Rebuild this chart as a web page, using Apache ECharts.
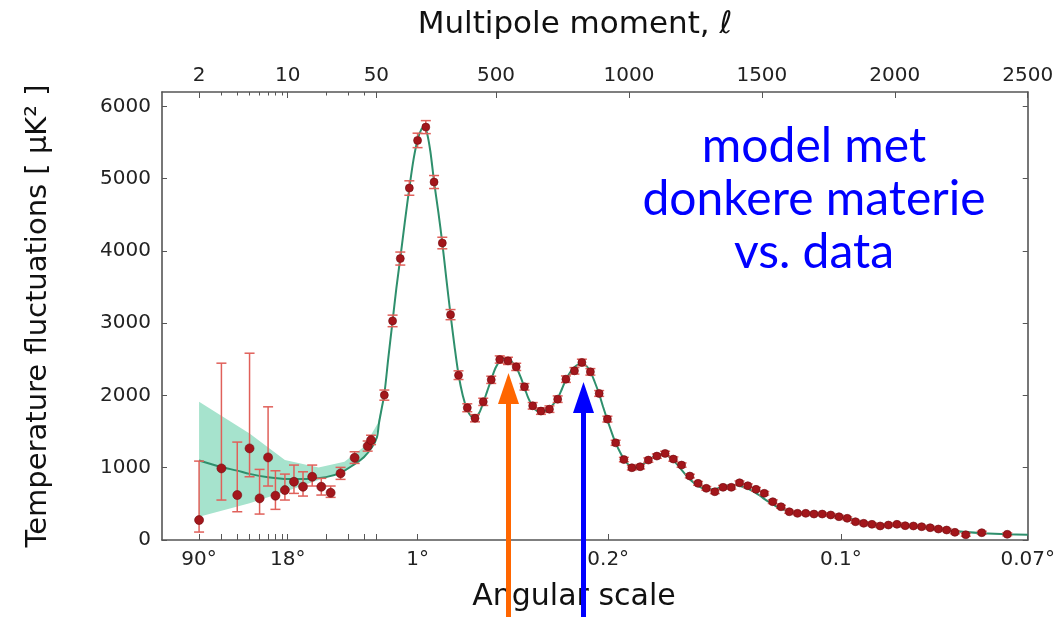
<html>
<head>
<meta charset="utf-8">
<title>Planck TT spectrum</title>
<script src="https://cdn.jsdelivr.net/npm/echarts@6/dist/echarts.min.js"></script>
<style>
html, body { margin: 0; padding: 0; background: #fff; }
#main { width: 1058px; height: 617px; }
</style>
</head>
<body>
<div id="main"></div>
<script>
// multipole axis: log below l=50, linear above (as in the Planck plot)
var LIN_START = 50;
var PER_DECADE = 477;   // l-units per decade in the log part
function toU(l) {
  return l >= LIN_START ? l : LIN_START - PER_DECADE * Math.log10(LIN_START / l);
}

// top axis ticks (multipole)
var topTickEll = [2, 10, 50, 500, 1000, 1500, 2000, 2500];
var topTickText = ['2', '10', '50', '500', '1000', '1500', '2000', '2500'];
var minorTickEll = [3, 4, 5, 6, 7, 8, 9, 20, 30, 40];
// bottom axis ticks (angular scale)
var angTickEll = [2, 10, 50, 205, 922, 1797, 2500];
var angTickText = ['90°', '18°', '', '1°', '0.2°', '0.1°', '0.07°'];
var yTicks = [0, 1000, 2000, 3000, 4000, 5000, 6000];

// low-l data with asymmetric errors
var lowEll = [2, 3, 4, 5, 6, 7, 8, 9.5, 11.2, 13.2, 15.6, 18.4, 21.8, 26.1, 33.7, 42.7, 45.4];
var lowDl = [276, 991, 622, 1268, 576, 1143, 613, 691, 806, 737, 875, 737, 654, 922, 1138, 1300, 1383];
var lowLo = [110, 553, 391, 875, 359, 747, 424, 553, 645, 608, 747, 622, 590, 839, 1060, 1230, 1320];
var lowHi = [1092, 2447, 1355, 2585, 977, 1843, 958, 912, 1037, 944, 1037, 853, 747, 1005, 1221, 1370, 1450];

// binned high-l data
var highEll = [80, 111, 140, 174, 205, 236, 267, 298, 329, 359, 392, 421, 452, 482, 514, 545, 576, 607, 638, 669,
  701, 732, 763, 795, 823, 855, 888, 919, 950, 981, 1011, 1042, 1073, 1105, 1136, 1167, 1198, 1229, 1260, 1291,
  1323, 1354, 1385, 1416, 1447, 1478, 1509, 1541, 1572, 1603, 1634, 1665, 1696, 1727, 1759, 1790, 1821, 1852, 1883, 1914,
  1945, 1976, 2008, 2039, 2070, 2101, 2133, 2164, 2195, 2226, 2267, 2327, 2423];
var highDl = [2005, 3032, 3895, 4871, 5530, 5714, 4954, 4110, 3119, 2281, 1830, 1685, 1912, 2217, 2498, 2479, 2396, 2120, 1857, 1784,
  1811, 1949, 2226, 2341, 2457, 2327, 2028, 1673, 1345, 1113, 1000, 1014, 1106, 1161, 1198, 1120, 1037, 885, 784, 715,
  668, 729, 729, 792, 751, 701, 646, 530, 460, 391, 369, 369, 359, 359, 346, 322, 300, 253, 231, 217,
  194, 207, 217, 198, 194, 184, 170, 152, 138, 106, 73, 101, 79];
var highErr = [70, 80, 90, 100, 100, 90, 90, 80, 70, 60, 55, 50, 50, 50, 50, 50, 50, 45, 45, 45,
  45, 45, 45, 45, 45, 45, 40, 40, 35, 30, 30, 30, 30, 30, 30, 30, 30, 25, 25, 25,
  25, 25, 25, 25, 25, 25, 25, 25, 20, 20, 20, 20, 20, 20, 20, 20, 20, 20, 20, 20,
  20, 20, 20, 20, 20, 20, 20, 20, 20, 20, 20, 20, 20];

// best-fit model curve
var modelEll = [2, 3, 4, 5, 7, 10, 14, 20, 26, 33, 40, 46, 52, 60, 70, 80, 95, 111, 125, 140,
  157, 174, 190, 205, 220, 230, 240, 253, 267, 283, 298, 313, 329, 344, 359, 375, 392, 407, 421, 437,
  452, 467, 482, 498, 514, 530, 545, 561, 576, 592, 607, 622, 638, 653, 669, 685, 701, 716, 732, 748,
  763, 779, 795, 810, 823, 840, 855, 871, 888, 903, 919, 935, 950, 966, 981, 996, 1011, 1027, 1042, 1058,
  1073, 1089, 1105, 1120, 1136, 1152, 1167, 1183, 1198, 1214, 1229, 1245, 1260, 1276, 1291, 1307, 1323, 1338, 1354, 1370,
  1385, 1401, 1416, 1432, 1447, 1463, 1478, 1494, 1509, 1525, 1541, 1556, 1572, 1588, 1603, 1619, 1634, 1665, 1696, 1727,
  1759, 1790, 1821, 1852, 1883, 1914, 1945, 1976, 2008, 2039, 2070, 2101, 2133, 2164, 2195, 2226, 2267, 2327, 2423, 2500];
var modelDl = [1100, 1010, 960, 915, 870, 845, 845, 870, 930, 1040, 1150, 1280, 1420, 1620, 1820, 2020, 2520, 3030, 3480, 3900,
  4400, 4870, 5270, 5540, 5690, 5710, 5640, 5380, 4960, 4540, 4110, 3620, 3120, 2680, 2290, 2000, 1800, 1710, 1690, 1760,
  1900, 2060, 2220, 2380, 2480, 2520, 2500, 2460, 2390, 2260, 2110, 1960, 1850, 1790, 1775, 1785, 1820, 1880, 1960, 2090,
  2220, 2320, 2390, 2430, 2440, 2410, 2330, 2190, 2020, 1840, 1660, 1490, 1340, 1220, 1120, 1050, 1010, 1000, 1015, 1060,
  1105, 1145, 1170, 1185, 1180, 1150, 1100, 1040, 970, 900, 840, 790, 750, 720, 705, 700, 705, 720, 740, 755,
  760, 760, 750, 730, 710, 680, 650, 610, 570, 530, 495, 460, 435, 410, 395, 380, 372, 365, 358, 352,
  340, 320, 298, 275, 250, 230, 215, 205, 200, 196, 192, 184, 170, 155, 140, 125, 110, 95, 80, 72];

// cosmic variance band at low l
var bandEll = [2, 5, 9.5, 17.5, 28, 40, 55, 70];
var bandTop = [1912, 1475, 1106, 1005, 1083, 1290, 1613, 1850];
var bandBot = [322, 507, 668, 830, 944, 1129, 1521, 1780];

var chart = echarts.init(document.getElementById('main'));

var axisFont = { fontFamily: 'DejaVu Sans', fontSize: 20, color: '#222' };
var lineCol = '#555';

function uList(arr) { return arr.map(toU); }
function labelFor(us, texts) {
  return function (v) {
    for (var i = 0; i < us.length; i++) if (Math.abs(us[i] - v) < 1e-6) return texts[i];
    return '';
  };
}

var topU = uList(topTickEll), minorU = uList(minorTickEll), angU = uList(angTickEll);

function xAx(pos, labels, texts, ticks, len, showLine) {
  return {
    type: 'value', position: pos, min: toU(1.02), max: 2500,
    axisLine: { show: showLine, onZero: false, lineStyle: { color: lineCol, width: 1.6 } },
    axisTick: { show: true, inside: true, length: len, customValues: ticks, lineStyle: { color: lineCol, width: 1 } },
    axisLabel: labels ? Object.assign({ show: true, customValues: labels, formatter: labelFor(labels, texts),
      margin: pos === 'top' ? 6 : 10 }, axisFont) : { show: false },
    splitLine: { show: false }
  };
}

function yAx(pos, showLabels) {
  return {
    type: 'value', position: pos, min: 0, max: 6200, interval: 1000,
    axisLine: { show: true, onZero: false, lineStyle: { color: lineCol, width: 1.6 } },
    axisTick: { show: true, inside: true, length: 5, customValues: yTicks, lineStyle: { color: lineCol } },
    axisLabel: showLabels ? Object.assign({ customValues: yTicks, margin: 11,
      formatter: function (v) { return String(v); } }, axisFont) : { show: false },
    splitLine: { show: false }
  };
}

var lowPts = lowEll.map(function (l, i) { return [toU(l), lowDl[i]]; });
var highPts = highEll.map(function (l, i) { return [toU(l), highDl[i]]; });
var errPts = lowEll.map(function (l, i) { return [toU(l), lowLo[i], lowHi[i]]; })
  .concat(highEll.map(function (l, i) { return [toU(l), highDl[i] - highErr[i], highDl[i] + highErr[i]]; }));
var modelPts = modelEll.map(function (l, i) { return [toU(l), modelDl[i]]; });

var option = {
  animation: false,
  backgroundColor: '#fff',
  grid: { left: 162, right: 24, top: 92, bottom: 77 },
  xAxis: [
    xAx('bottom', angU, angTickText, angU.concat(minorU), 6, true),
    xAx('top', topU, topTickText, topU, 6, true),
    xAx('top', null, null, minorU, 3.5, false)
  ],
  yAxis: [yAx('left', true), yAx('right', false)],
  series: [
    {
      type: 'custom',
      name: 'band',
      data: [[toU(2), 0]],
      renderItem: function (params, api) {
        var pts = [];
        for (var i = 0; i < bandEll.length; i++) pts.push(api.coord([toU(bandEll[i]), bandTop[i]]));
        for (var j = bandEll.length - 1; j >= 0; j--) pts.push(api.coord([toU(bandEll[j]), bandBot[j]]));
        return { type: 'polygon', shape: { points: pts }, style: { fill: '#a6e3cd' }, silent: true };
      },
      z: 1
    },
    {
      type: 'line',
      name: 'model',
      data: modelPts,
      smooth: 0.3,
      showSymbol: false,
      lineStyle: { color: '#2e8f6c', width: 2 },
      z: 2
    },
    {
      type: 'custom',
      name: 'errors',
      data: errPts,
      renderItem: function (params, api) {
        var x = api.value(0);
        var lo = api.coord([x, api.value(1)]);
        var hi = api.coord([x, api.value(2)]);
        var w = 5;
        var st = { stroke: '#e0605a', lineWidth: 1.5 };
        return {
          type: 'group',
          children: [
            { type: 'line', shape: { x1: lo[0], y1: lo[1], x2: hi[0], y2: hi[1] }, style: st },
            { type: 'line', shape: { x1: lo[0] - w, y1: lo[1], x2: lo[0] + w, y2: lo[1] }, style: st },
            { type: 'line', shape: { x1: hi[0] - w, y1: hi[1], x2: hi[0] + w, y2: hi[1] }, style: st }
          ]
        };
      },
      z: 3
    },
    {
      type: 'scatter',
      name: 'low',
      data: lowPts,
      symbolSize: 9,
      itemStyle: { color: '#a3161b', borderColor: '#6e0c10', borderWidth: 0.6, opacity: 1 },
      z: 4
    },
    {
      type: 'scatter',
      name: 'high',
      data: highPts,
      symbolSize: 8,
      itemStyle: { color: '#a3161b', borderColor: '#6e0c10', borderWidth: 0.6, opacity: 1 },
      z: 4
    }
  ],
  graphic: [
    { type: 'text', x: 575, y: 25, style: { text: 'Multipole moment, ℓ', font: '31px "DejaVu Sans"', fill: '#111', textAlign: 'center', textVerticalAlign: 'middle' } },
    { type: 'text', x: 574, y: 597, style: { text: 'Angular scale', font: '30px "DejaVu Sans"', fill: '#111', textAlign: 'center', textVerticalAlign: 'middle' } },
    { type: 'text', x: 38, y: 316, rotation: Math.PI / 2, style: { text: 'Temperature fluctuations [ μK² ]', font: '29px "DejaVu Sans"', fill: '#111', textAlign: 'center', textVerticalAlign: 'middle' } },
    { type: 'text', x: 814, y: 120, style: { text: 'model met\ndonkere materie\nvs. data', font: '48px Lato', lineHeight: 53, fill: '#0000ff', textAlign: 'center', textVerticalAlign: 'top' } },
    { type: 'rect', shape: { x: 506, y: 400, width: 5, height: 217 }, style: { fill: '#ff6600' }, z: 100 },
    { type: 'polygon', shape: { points: [[508.5, 373], [498, 404], [519, 404]] }, style: { fill: '#ff6600' }, z: 100 },
    { type: 'rect', shape: { x: 581, y: 408, width: 5, height: 209 }, style: { fill: '#0000ff' }, z: 100 },
    { type: 'polygon', shape: { points: [[583.5, 382], [573, 413], [594, 413]] }, style: { fill: '#0000ff' }, z: 100 }
  ]
};

chart.setOption(option);
</script>
</body>
</html>
